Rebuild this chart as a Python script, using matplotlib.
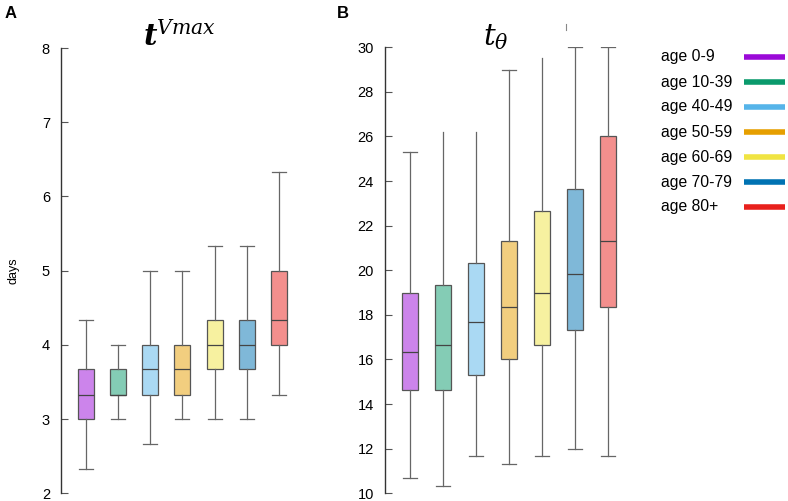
import matplotlib
matplotlib.use('Agg')
import matplotlib.pyplot as plt
from matplotlib.lines import Line2D
from matplotlib.colors import to_rgba

plt.rcParams['font.family'] = 'sans-serif'
plt.rcParams['font.sans-serif'] = ['Liberation Sans', 'DejaVu Sans']
plt.rcParams['mathtext.fontset'] = 'dejavuserif'

# Altersgruppen und Farben
groups = ['age 0-9', 'age 10-39', 'age 40-49', 'age 50-59', 'age 60-69', 'age 70-79', 'age 80+']
colors = ['#9b0ad8', '#0a9a6c', '#56b4e9', '#e69f00', '#f0e442', '#0072b2', '#e8201c']

# Panel A: t^Vmax (Tage)
a_low = [2.33, 3.0, 2.67, 3.0, 3.0, 3.0, 3.33]
a_q1 = [3.0, 3.33, 3.33, 3.33, 3.67, 3.67, 4.0]
a_med = [3.33, 3.33, 3.67, 3.67, 4.0, 4.0, 4.33]
a_q3 = [3.67, 3.67, 4.0, 4.0, 4.33, 4.33, 5.0]
a_high = [4.33, 4.0, 5.0, 5.0, 5.33, 5.33, 6.33]

# Panel B: t_theta
b_low = [10.67, 10.34, 11.66, 11.33, 11.66, 12.0, 11.66]
b_q1 = [14.65, 14.65, 15.32, 16.0, 16.65, 17.32, 18.34]
b_med = [16.32, 16.65, 17.67, 18.34, 19.0, 19.83, 21.3]
b_q3 = [19.0, 19.33, 20.33, 21.31, 22.65, 23.65, 26.0]
b_high = [25.3, 26.2, 26.2, 29.0, 29.5, 30.0, 30.0]
b_no_top_cap = [1, 2, 4]


def draw_panel(ax, low, q1, med, q3, high, width):
    stats = []
    for i in range(len(groups)):
        stats.append({'whislo': low[i], 'q1': q1[i], 'med': med[i],
                      'q3': q3[i], 'whishi': high[i], 'fliers': []})
    bp = ax.bxp(stats, positions=range(1, len(groups) + 1), widths=width,
                patch_artist=True, showfliers=False, capwidths=width * 0.88,
                boxprops=dict(edgecolor='#555555', linewidth=0.9),
                whiskerprops=dict(color='#666666', linewidth=0.9),
                capprops=dict(color='#666666', linewidth=0.9),
                medianprops=dict(color='#444444', linewidth=0.9))
    for patch, c in zip(bp['boxes'], colors):
        patch.set_facecolor(to_rgba(c, 0.5))
    for side in ['top', 'right', 'bottom']:
        ax.spines[side].set_visible(False)
    ax.spines['left'].set_color('#333333')
    ax.spines['left'].set_linewidth(1.0)
    ax.tick_params(axis='y', direction='in', length=5, color='#555555',
                   labelsize=10.5, pad=8)
    ax.set_xticks([])
    return bp


fig = plt.figure(figsize=(7.88, 5.01), dpi=100)

axA = fig.add_axes([61 / 788, 1 - 493.3 / 501, 237.3 / 788, 445.3 / 501])
draw_panel(axA, a_low, a_q1, a_med, a_q3, a_high, 0.5)
axA.set_ylim(2, 8)
axA.set_xlim(0.23, 7.6)
axA.set_yticks(range(2, 9))
axA.set_ylabel('days', fontsize=9, labelpad=16)
axA.text(0.5, 0.99, r'$\mathbfit{t}^{Vmax}$', transform=axA.transAxes,
         ha='center', va='bottom', fontsize=21)

axB = fig.add_axes([385 / 788, 1 - 493.3 / 501, 242.6 / 788, 446 / 501])
bpB = draw_panel(axB, b_low, b_q1, b_med, b_q3, b_high, 0.485)
for i in b_no_top_cap:
    bpB['caps'][2 * i + 1].set_visible(False)
axB.set_ylim(10, 30)
axB.set_xlim(0.25, 7.6)
axB.set_yticks(range(10, 31, 2))
axB.text(0.455, 0.99, r'$t_{\theta}$', transform=axB.transAxes,
         ha='center', va='bottom', fontsize=21)

fig.text(5 / 788, 1 - 13 / 501, 'A', fontsize=12, fontweight='bold', va='center')
fig.text(337 / 788, 1 - 13 / 501, 'B', fontsize=12, fontweight='bold', va='center')

# kleiner Strich ueber Panel B (wie im Original)
fig.add_artist(Line2D([566 / 788, 566 / 788], [1 - 24 / 501, 1 - 30 / 501],
                      color='#888888', linewidth=0.8))

# Legende rechts
for k, (g, c) in enumerate(zip(groups, colors)):
    yk = 1 - (57 + 25 * k) / 501
    fig.text(661 / 788, yk, g, fontsize=11.3, va='center', ha='left')
    fig.add_artist(Line2D([744 / 788, 785 / 788], [yk, yk], color=c, linewidth=4,
                          solid_capstyle='butt'))

plt.savefig('out.png', dpi=100)
